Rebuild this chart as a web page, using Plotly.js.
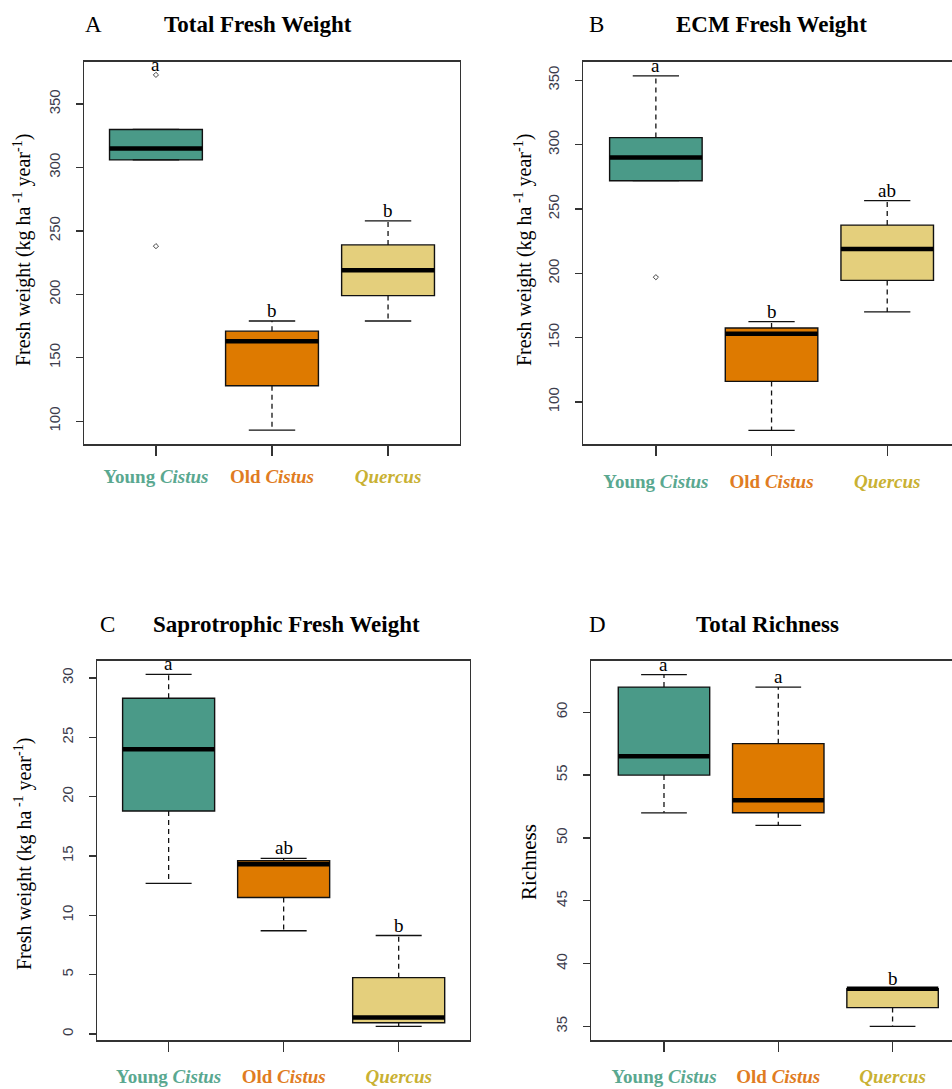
<!DOCTYPE html>
<html><head><meta charset="utf-8">
<script src="https://cdn.plot.ly/plotly-3.0.1.min.js"></script>
<style>html,body{margin:0;padding:0;background:#fff}</style>
</head><body><div id="chart" style="width:952px;height:1089px"></div>
<script>
// ---------- data ----------
const groups = ['Young Cistus', 'Old Cistus', 'Quercus'];
const groupLabels = ['<b>Young <i>Cistus</i></b>', '<b>Old <i>Cistus</i></b>', '<b><i>Quercus</i></b>'];
const positions = [1, 2, 3];
const fillColors = ['#4a9a88', '#de7a00', '#e4cf7c'];
const labelColors = ['#5aa890', '#e07c22', '#c9b133'];

// A: Total Fresh Weight
const totalLowerWhisker = [306, 93, 179];
const totalQ1 = [306, 128, 199];
const totalMedian = [315, 163, 219];
const totalQ3 = [330, 171, 239];
const totalUpperWhisker = [330, 179, 258];
const totalOutliers = [[373, 238], [], []];
const totalLetters = ['a', 'b', 'b'];
const totalTicks = [100, 150, 200, 250, 300, 350];

// B: ECM Fresh Weight
const ecmLowerWhisker = [272, 78, 170];
const ecmQ1 = [272, 116, 194.5];
const ecmMedian = [290, 153, 219];
const ecmQ3 = [305.5, 157.5, 237.5];
const ecmUpperWhisker = [353.5, 162.5, 256.5];
const ecmOutliers = [[197], [], []];
const ecmLetters = ['a', 'b', 'ab'];
const ecmTicks = [100, 150, 200, 250, 300, 350];

// C: Saprotrophic Fresh Weight
const saproLowerWhisker = [12.7, 8.7, 0.65];
const saproQ1 = [18.8, 11.5, 0.95];
const saproMedian = [24, 14.3, 1.4];
const saproQ3 = [28.3, 14.6, 4.75];
const saproUpperWhisker = [30.3, 14.8, 8.3];
const saproOutliers = [[], [], []];
const saproLetters = ['a', 'ab', 'b'];
const saproTicks = [0, 5, 10, 15, 20, 25, 30];

// D: Total Richness
const richLowerWhisker = [52, 51, 35];
const richQ1 = [55, 52, 36.5];
const richMedian = [56.5, 53, 38];
const richQ3 = [62, 57.5, 38];
const richUpperWhisker = [63, 62, 38];
const richOutliers = [[], [], []];
const richLetters = ['a', 'a', 'b'];
const richTicks = [35, 40, 45, 50, 55, 60];

// ---------- layout helpers ----------
const W = 952, H = 1089;
const px = v => v / W;
const py = v => 1 - v / H;
const SERIF = 'Liberation Serif, serif';
const SANS = 'Liberation Sans, sans-serif';
const BOXW = 0.8, CAPW = 0.4;

const coloredTickText = groupLabels.map((t, i) => '<span style="color:' + labelColors[i] + '">' + t + '</span>');

const panels = [
  {id: '', letter: 'A', title: 'Total Fresh Weight', ytitle: 'Fresh weight (kg ha<sup> -1</sup> year<sup>-1</sup>)',
   lw: totalLowerWhisker, q1: totalQ1, med: totalMedian, q3: totalQ3, uw: totalUpperWhisker, out: totalOutliers, letters: totalLetters, ticks: totalTicks,
   xdom: [px(84), px(460)], ydom: [py(444.3), py(61.7)], xr: [0.38, 3.62], yr: [81.8, 383.4], mirrorY: true,
   titleX: 258, titleY: 24, letterX: 93, ytX: 22, ytY: 250, catStand: 4},
  {id: '2', letter: 'B', title: 'ECM Fresh Weight', ytitle: 'Fresh weight (kg ha<sup> -1</sup> year<sup>-1</sup>)',
   lw: ecmLowerWhisker, q1: ecmQ1, med: ecmMedian, q3: ecmQ3, uw: ecmUpperWhisker, out: ecmOutliers, letters: ecmLetters, ticks: ecmTicks,
   xdom: [px(583), 1], ydom: [py(444.3), py(61.7)], xr: [0.37, 3.56], yr: [67.1, 364.5], mirrorY: false,
   titleX: 771, titleY: 24, letterX: 596, ytX: 523, ytY: 250, catStand: 9},
  {id: '3', letter: 'C', title: 'Saprotrophic Fresh Weight', ytitle: 'Fresh weight (kg ha<sup> -1</sup> year<sup>-1</sup>)',
   lw: saproLowerWhisker, q1: saproQ1, med: saproMedian, q3: saproQ3, uw: saproUpperWhisker, out: saproOutliers, letters: saproLetters, ticks: saproTicks,
   xdom: [px(97.3), px(470)], ydom: [py(1040.3), py(660.7)], xr: [0.38, 3.62], yr: [-0.53, 31.46], mirrorY: true,
   titleX: 286, titleY: 624, letterX: 107, ytX: 23, ytY: 854, catStand: 8},
  {id: '4', letter: 'D', title: 'Total Richness', ytitle: 'Richness',
   lw: richLowerWhisker, q1: richQ1, med: richMedian, q3: richQ3, uw: richUpperWhisker, out: richOutliers, letters: richLetters, ticks: richTicks,
   xdom: [px(591.3), 1], ydom: [py(1040.3), py(660.7)], xr: [0.364, 3.52], yr: [33.9, 64.1], mirrorY: false,
   titleX: 767, titleY: 624, letterX: 597, ytX: 529, ytY: 862, catStand: 8, ytSize: 21}
];

const traces = [];
const annotations = [];
const layout = {
  width: W, height: H, margin: {l: 0, r: 0, t: 0, b: 0},
  paper_bgcolor: '#fff', plot_bgcolor: '#fff', showlegend: false,
  boxmode: 'overlay', annotations: annotations
};

panels.forEach(p => {
  const xa = 'x' + p.id, ya = 'y' + p.id;
  // boxes
  positions.forEach((pos, i) => {
    traces.push({
      type: 'box', orientation: 'v', x: [pos], q1: [p.q1[i]], median: [p.med[i]], q3: [p.q3[i]],
      lowerfence: [p.q1[i]], upperfence: [p.q3[i]], width: BOXW, whiskerwidth: 0,
      fillcolor: fillColors[i], line: {color: '#111', width: 1.4}, boxpoints: false,
      name: groups[i], xaxis: xa, yaxis: ya, hoverinfo: 'skip'
    });
  });
  // dashed whiskers, caps, thick medians, outliers
  const wx = [], wy = [], cx = [], cy = [], mx = [], my = [], ox = [], oy = [];
  positions.forEach((pos, i) => {
    if (p.uw[i] > p.q3[i]) { wx.push(pos, pos, null); wy.push(p.q3[i], p.uw[i], null); }
    if (p.lw[i] < p.q1[i]) { wx.push(pos, pos, null); wy.push(p.q1[i], p.lw[i], null); }
    cx.push(pos - CAPW / 2, pos + CAPW / 2, null, pos - CAPW / 2, pos + CAPW / 2, null);
    cy.push(p.uw[i], p.uw[i], null, p.lw[i], p.lw[i], null);
    mx.push(pos - BOXW / 2, pos + BOXW / 2, null);
    my.push(p.med[i], p.med[i], null);
    p.out[i].forEach(v => { ox.push(pos); oy.push(v); });
  });
  traces.push({type: 'scatter', mode: 'lines', x: wx, y: wy, xaxis: xa, yaxis: ya, hoverinfo: 'skip',
    line: {color: '#111', width: 1.3, dash: '5px,4px'}});
  traces.push({type: 'scatter', mode: 'lines', x: cx, y: cy, xaxis: xa, yaxis: ya, hoverinfo: 'skip',
    line: {color: '#111', width: 1.3}});
  traces.push({type: 'scatter', mode: 'lines', x: mx, y: my, xaxis: xa, yaxis: ya, hoverinfo: 'skip',
    line: {color: '#000', width: 4.5}});
  if (ox.length) traces.push({type: 'scatter', mode: 'markers', x: ox, y: oy, xaxis: xa, yaxis: ya, hoverinfo: 'skip',
    marker: {symbol: 'diamond-open', size: 4, color: '#444', line: {width: 1}}});

  layout['xaxis' + p.id] = {
    domain: p.xdom, range: p.xr, anchor: ya, tickmode: 'array', tickvals: positions, ticktext: coloredTickText,
    tickfont: {family: SERIF, size: 19, color: '#000'}, ticklabelstandoff: p.catStand, tickangle: 0,
    ticks: 'outside', ticklen: 10, tickwidth: 1.3, tickcolor: '#333',
    showline: true, linecolor: '#333', linewidth: 1.4, mirror: true, showgrid: false, zeroline: false, fixedrange: true
  };
  layout['yaxis' + p.id] = {
    domain: p.ydom, range: p.yr, anchor: xa, tickmode: 'array', tickvals: p.ticks, tickangle: -90,
    ticks: 'outside', ticklen: 7, tickwidth: 1.3, tickcolor: '#333', ticklabelstandoff: 10,
    tickfont: {family: SANS, size: 15, color: '#3c3c4c'},
    showline: true, linecolor: '#333', linewidth: 1.4, mirror: p.mirrorY, showgrid: false, zeroline: false, fixedrange: true
  };

  // significance letters above boxes
  positions.forEach((pos, i) => {
    const top = Math.max(p.uw[i], ...p.out[i]);
    annotations.push({x: pos, y: top, xref: xa, yref: ya, text: p.letters[i], showarrow: false,
      yanchor: 'bottom', yshift: -2, font: {family: SERIF, size: 19, color: '#000'}});
  });
  // titles
  annotations.push({x: px(p.titleX), y: py(p.titleY), xref: 'paper', yref: 'paper', text: '<b>' + p.title + '</b>',
    showarrow: false, xanchor: 'center', yanchor: 'middle', font: {family: SERIF, size: 23, color: '#000'}});
  annotations.push({x: px(p.letterX), y: py(p.titleY), xref: 'paper', yref: 'paper', text: p.letter,
    showarrow: false, xanchor: 'center', yanchor: 'middle', font: {family: SERIF, size: 23, color: '#000'}});
  annotations.push({x: px(p.ytX), y: py(p.ytY), xref: 'paper', yref: 'paper', text: p.ytitle, textangle: -90,
    showarrow: false, xanchor: 'center', yanchor: 'middle', font: {family: SERIF, size: p.ytSize || 20, color: '#000'}});
});

Plotly.newPlot('chart', traces, layout, {staticPlot: true, displayModeBar: false});
</script>
</body></html>
